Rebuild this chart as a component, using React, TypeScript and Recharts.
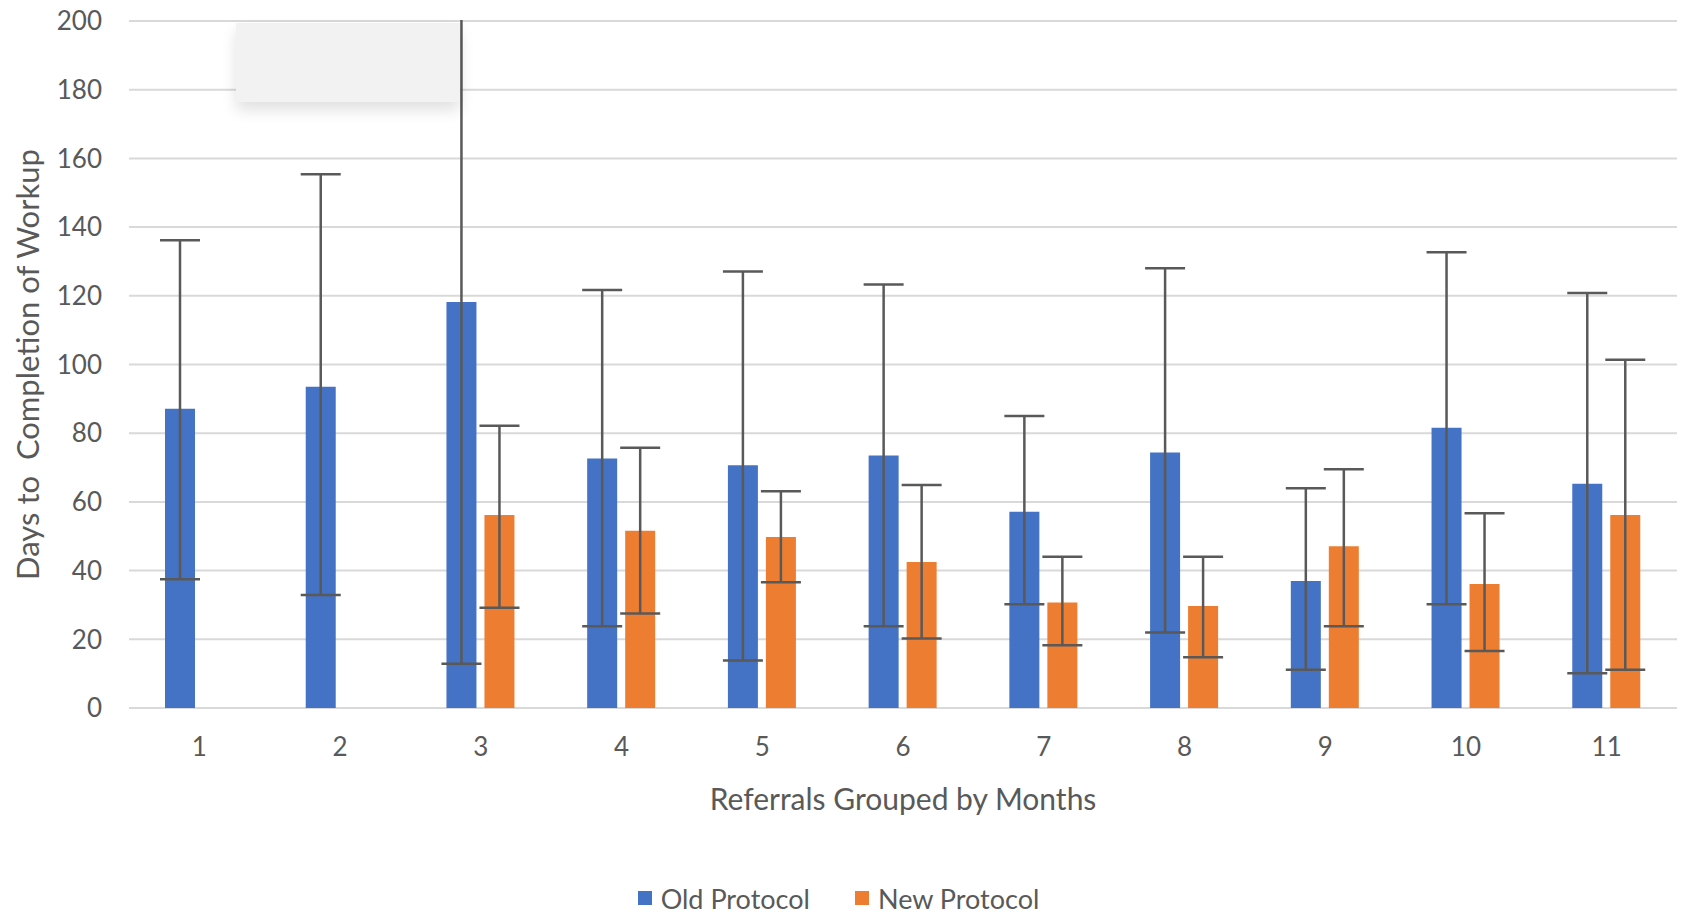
import { BarChart, Bar, XAxis, YAxis, CartesianGrid, ErrorBar, Legend } from "recharts";

const months = ["1", "2", "3", "4", "5", "6", "7", "8", "9", "10", "11"];

// mean days and error bar ends
const oldMean = [87.1, 93.5, 118.2, 72.6, 70.7, 73.5, 57.1, 74.4, 37.0, 81.6, 65.3];
const oldLow = [37.5, 32.9, 12.9, 23.8, 13.8, 23.8, 30.2, 22.0, 11.1, 30.2, 10.1];
const oldHigh = [136.2, 155.4, 215, 121.7, 127.1, 123.3, 85.0, 128.0, 64.0, 132.7, 120.8];

const newMean = [null, null, 56.2, 51.6, 49.8, 42.5, 30.7, 29.7, 47.1, 36.1, 56.2];
const newLow = [null, null, 29.2, 27.5, 36.6, 20.2, 18.3, 14.8, 23.8, 16.6, 11.1];
const newHigh = [null, null, 82.2, 75.8, 63.1, 64.9, 44.0, 44.0, 69.5, 56.7, 101.4];

const yTicks = [0, 20, 40, 60, 80, 100, 120, 140, 160, 180, 200];
const seriesNames = ["Old Protocol", "New Protocol"];

const data = months.map((m, i) => {
  const nm = newMean[i];
  return {
    month: m,
    old: oldMean[i],
    oldErr: [oldMean[i] - oldLow[i], oldHigh[i] - oldMean[i]],
    neu: nm,
    newErr: nm == null ? null : [nm - (newLow[i] as number), (newHigh[i] as number) - nm],
  };
});

const FONT = "Lato, 'Open Sans', sans-serif";
const TEXT = "#595959";

const YTitle = (props: any) => {
  const vb = props.viewBox;
  const cy = vb.y + vb.height / 2;
  return (
    <text
      x={27}
      y={cy}
      transform={`rotate(-90, 27, ${cy})`}
      textAnchor="middle"
      dominantBaseline="central"
      fill={TEXT}
      fontSize={31}
      fontFamily={FONT}
      style={{ whiteSpace: "pre" }}
    >
      {"Days to  Completion of Workup"}
    </text>
  );
};

const LegendBox = (props: any) => {
  const items = [...(props.payload || [])].sort(
    (a: any, b: any) => seriesNames.indexOf(a.value) - seriesNames.indexOf(b.value)
  );
  return (
    <div
      style={{
        height: 44,
        display: "flex",
        justifyContent: "center",
        alignItems: "center",
        fontFamily: FONT,
        fontSize: 27,
        color: TEXT,
      }}
    >
      {items.map((it: any, i: number) => (
        <div key={i} style={{ display: "flex", alignItems: "center", marginRight: i === 0 ? 45 : 0 }}>
          <span style={{ width: 14, height: 14, background: it.color, marginRight: 9, display: "inline-block" }} />
          <span>{it.value}</span>
        </div>
      ))}
    </div>
  );
};

export default function App() {
  return (
    <div style={{ position: "absolute", left: 0, top: 0, width: 1683, height: 920, background: "#fff" }}>
      {/* clip for error bars that run past the top of the axis */}
      <svg width={0} height={0} style={{ position: "absolute" }}>
        <defs>
          <clipPath id="plotArea">
            <rect x={0} y={20} width={1683} height={900} />
          </clipPath>
        </defs>
      </svg>
      <BarChart
        width={1683}
        height={920}
        data={data}
        margin={{ top: 21, right: 6, left: 0, bottom: 0 }}
        barSize={30}
        barGap={8}
      >
        <CartesianGrid vertical={false} stroke="#d9d9d9" strokeWidth={2} />
        <XAxis
          dataKey="month"
          axisLine={false}
          tickLine={false}
          tickSize={0}
          tickMargin={30}
          height={168}
          tick={{ fill: TEXT, fontSize: 26, fontFamily: FONT }}
          label={{
            value: "Referrals Grouped by Months",
            position: "insideTop",
            offset: 81,
            fill: TEXT,
            fontSize: 30,
            fontFamily: FONT,
          }}
        />
        <YAxis
          width={129}
          domain={[0, 200]}
          ticks={yTicks}
          allowDataOverflow
          axisLine={false}
          tickLine={false}
          tickSize={0}
          tickMargin={27}
          tick={{ fill: TEXT, fontSize: 26, fontFamily: FONT }}
          label={<YTitle />}
        />
        <Legend verticalAlign="bottom" content={<LegendBox />} />
        <Bar dataKey="old" name="Old Protocol" fill="#4472C4" isAnimationActive={false}>
          <ErrorBar dataKey="oldErr" width={20} stroke="#595959" strokeWidth={2.5} clipPath="url(#plotArea)" />
        </Bar>
        <Bar dataKey="neu" name="New Protocol" fill="#ED7D31" isAnimationActive={false}>
          <ErrorBar dataKey="newErr" width={20} stroke="#595959" strokeWidth={2.5} clipPath="url(#plotArea)" />
        </Bar>
      </BarChart>
      <div
        style={{
          position: "absolute",
          left: 236,
          top: 23,
          width: 224,
          height: 79,
          background: "#f2f2f2",
          boxShadow: "0 8px 14px rgba(0,0,0,0.12)",
        }}
      />
    </div>
  );
}
